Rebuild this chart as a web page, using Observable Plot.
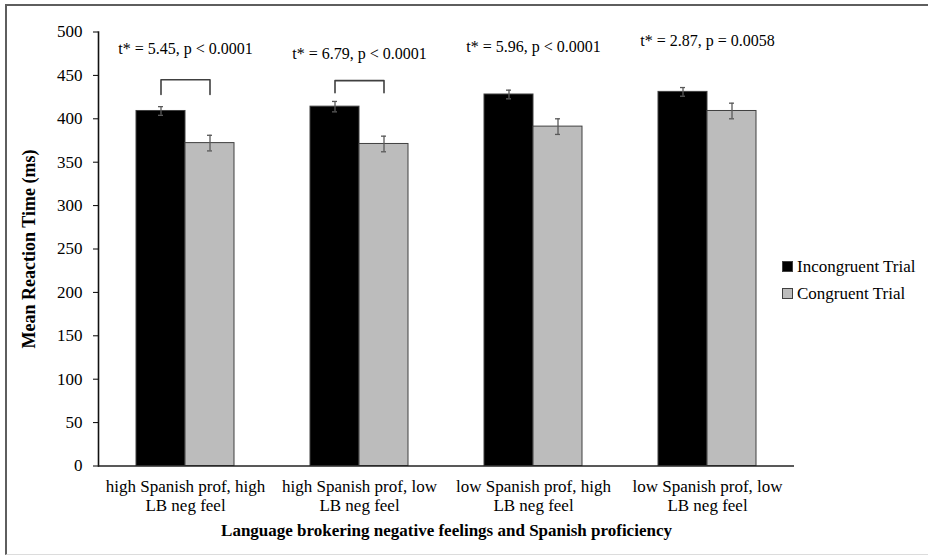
<!DOCTYPE html>
<html>
<head>
<meta charset="utf-8">
<script src="https://cdn.jsdelivr.net/npm/d3@7"></script>
<script src="https://cdn.jsdelivr.net/npm/@observablehq/plot@0.6"></script>
<style>
  html, body { margin: 0; padding: 0; background: #fff; }
  #wrap { position: relative; width: 928px; height: 557px; overflow: hidden; background: #fff; font-family: "Liberation Serif", "Times New Roman", serif; }
  #frame { position: absolute; left: 5px; top: 4px; width: 940px; height: 551px; border-top: 2px solid #5e5e5e; border-left: 2px solid #5e5e5e; border-bottom: 1px solid #dcdcdc; box-sizing: border-box; }
  #wrap svg { position: absolute; left: 0; top: 0; }
  g[aria-label$="axis label"] text, g[aria-label$="axis label"] { font-weight: bold; }
  #legend { position: absolute; left: 782px; top: 253px; font-size: 17px; color: #000; }
  #legend .row { display: flex; align-items: center; height: 27px; }
  #legend .sw { width: 9px; height: 9px; border: 1px solid #404040; margin-right: 4px; box-sizing: content-box; }
</style>
</head>
<body>
<div id="wrap"><div id="frame"></div></div>
<script>
// ---- data ----
const categories = [
  "high Spanish prof, high LB neg feel",
  "high Spanish prof, low LB neg feel",
  "low Spanish prof, high LB neg feel",
  "low Spanish prof, low LB neg feel"
];
const categoryLabels = [
  "high Spanish prof, high\nLB neg feel",
  "high Spanish prof, low\nLB neg feel",
  "low Spanish prof, high\nLB neg feel",
  "low Spanish prof, low\nLB neg feel"
];
const series = ["Incongruent Trial", "Congruent Trial"];
const seriesColors = ["#000000", "#bcbcbc"];
const incongruent = [409, 414, 428, 431];
const congruent = [372, 371, 391, 409];
const incongruentErr = [5, 6, 5, 5];
const congruentErr = [9, 9, 9, 9];
const statLabels = [
  "t* = 5.45, p < 0.0001",
  "t* = 6.79, p < 0.0001",
  "t* = 5.96, p < 0.0001",
  "t* = 2.87, p = 0.0058"
];
const statY = [481, 475, 483, 490];
const bracketCategories = [categories[0], categories[1]];
const bracketTop = [445, 444];
const bracketBottom = [428, 430];
const yTicks = [0, 50, 100, 150, 200, 250, 300, 350, 400, 450, 500];
const xTitle = "Language brokering negative feelings and Spanish proficiency";
const yTitle = "Mean Reaction Time (ms)";

// ---- tables ----
const bars = categories.flatMap((c, i) => [
  {category: c, series: series[0], value: incongruent[i], err: incongruentErr[i]},
  {category: c, series: series[1], value: congruent[i], err: congruentErr[i]}
]);
const stats = categories.map((c, i) => ({category: c, label: statLabels[i], y: statY[i]}));
const brackets = bracketCategories.flatMap((c, i) => [
  {category: c, series: series[0], value: bracketBottom[i]},
  {category: c, series: series[0], value: bracketTop[i]},
  {category: c, series: series[1], value: bracketTop[i]},
  {category: c, series: series[1], value: bracketBottom[i]}
]);

const chart = Plot.plot({
  width: 928,
  height: 557,
  marginTop: 31.5,
  marginBottom: 91.5,
  marginLeft: 97,
  marginRight: 133,
  style: {fontFamily: '"Liberation Serif", "Times New Roman", serif', fontSize: "17px", color: "#000", background: "transparent", overflow: "visible"},
  fx: {domain: categories, padding: 0},
  x: {domain: series, paddingInner: 0, paddingOuter: 0.745, axis: null},
  y: {domain: [0, 500], ticks: yTicks, tickSize: 5, tickPadding: 11,
      label: yTitle, labelAnchor: "center", labelOffset: 76, labelArrow: false},
  color: {domain: series, range: seriesColors},
  marks: [
    Plot.axisFx({anchor: "bottom", tickSize: 0, tickPadding: 12, lineHeight: 1.12, fontSize: 17,
      tickFormat: d => categoryLabels[categories.indexOf(d)],
      label: xTitle, labelAnchor: "center", labelOffset: 70, labelArrow: false}),
    Plot.frame({anchor: "left", facetAnchor: "left", stroke: "#111", strokeWidth: 1.6}),
    Plot.barY(bars, {fx: "category", x: "series", y: "value", fill: "series", stroke: "#404040", strokeWidth: 1}),
    Plot.ruleX(bars, {fx: "category", x: "series", y1: d => d.value - d.err, y2: d => d.value + d.err, stroke: "#595959", strokeWidth: 1.3}),
    Plot.tickY(bars, {fx: "category", x: "series", y: d => d.value - d.err, stroke: "#595959", strokeWidth: 1.3, insetLeft: 22, insetRight: 22}),
    Plot.tickY(bars, {fx: "category", x: "series", y: d => d.value + d.err, stroke: "#595959", strokeWidth: 1.3, insetLeft: 22, insetRight: 22}),
    Plot.ruleY([0], {stroke: "#222", strokeWidth: 1.5}),
    Plot.line(brackets, {fx: "category", x: "series", y: "value", z: "category", stroke: "#404040", strokeWidth: 1.6}),
    Plot.text(stats, {fx: "category", y: "y", text: "label", fontSize: 16, fill: "#000", ariaLabel: "statistics"})
  ]
});

// italicize the t and p in the statistic labels
chart.querySelectorAll('g[aria-label="statistics"] text').forEach(t => {
  const s = t.textContent;
  const m = s.match(/^(t)(\*.*?, )(p)(.*)$/);
  if (!m) return;
  t.textContent = "";
  const ns = "http://www.w3.org/2000/svg";
  [[m[1], true], [m[2], false], [m[3], true], [m[4], false]].forEach(([str, it]) => {
    const ts = document.createElementNS(ns, "tspan");
    ts.textContent = str;
    if (it) ts.setAttribute("font-style", "italic");
    t.appendChild(ts);
  });
});
chart.querySelectorAll('g[aria-label$="axis label"] text').forEach(t => t.setAttribute("font-weight", "bold"));
const yl = chart.querySelector('g[aria-label="y-axis label"]');
if (yl) yl.setAttribute("font-size", "18");

const wrap = document.getElementById("wrap");
wrap.appendChild(chart);

// legend
const legend = document.createElement("div");
legend.id = "legend";
series.forEach((s, i) => {
  const row = document.createElement("div");
  row.className = "row";
  const sw = document.createElement("span");
  sw.className = "sw";
  sw.style.background = seriesColors[i];
  const lab = document.createElement("span");
  lab.textContent = s;
  row.appendChild(sw);
  row.appendChild(lab);
  legend.appendChild(row);
});
wrap.appendChild(legend);
</script>
</body>
</html>
